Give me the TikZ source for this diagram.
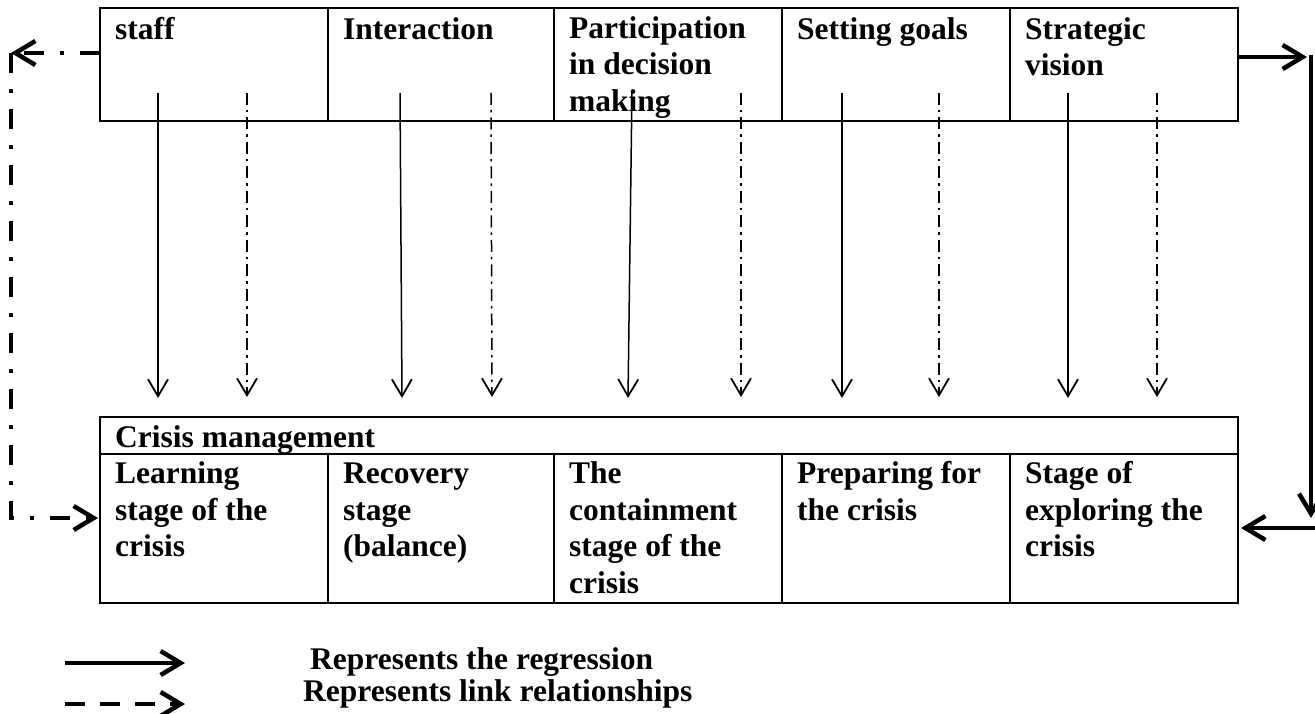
\documentclass[tikz,border=0pt]{standalone}
\usepackage{fontspec}
\setmainfont{Liberation Serif}
\usetikzlibrary{arrows.meta,calc}
\newcommand{\tst}{\rule{0pt}{26pt}}
\begin{document}
\begin{tikzpicture}[x=1pt,y=-1pt,
  cell/.style={draw, line width=2.5pt, anchor=north west, inner sep=0pt, outer sep=0pt},
  txt/.style={anchor=north west, inner sep=0pt, align=left, font=\fontsize{31.5}{36.8}\selectfont\bfseries},
  reg/.style={line width=1.5pt, -{Straight Barb[length=17pt,width=20pt,line width=1.8pt]}},
  ddot/.style={line width=1.5pt, dash pattern=on 12pt off 5pt on 2.5pt off 5pt, -{Straight Barb[length=17pt,width=20pt,line width=1.8pt]}},
  thickreg/.style={line width=4.5pt, -{Straight Barb[length=20pt,width=24pt,line width=4.5pt]}},
  link/.style={line width=4.5pt, dash pattern=on 20pt off 16pt on 4pt off 16pt, -{Straight Barb[length=20pt,width=24pt,line width=4.5pt]}},
  legdash/.style={line width=4.5pt, dash pattern=on 20pt off 15pt, -{Straight Barb[length=20pt,width=24pt,line width=4.5pt]}}
]
\useasboundingbox (0,0) rectangle (1315,714);

% top row
\node[cell, minimum width=228pt, minimum height=113pt] (s1) at (100,8) {};
\node[cell, minimum width=226pt, minimum height=113pt] (s2) at (328,8) {};
\node[cell, minimum width=228pt, minimum height=113pt] (s3) at (554,8) {};
\node[cell, minimum width=228pt, minimum height=113pt] (s4) at (782,8) {};
\node[cell, minimum width=228pt, minimum height=113pt] (s5) at (1010,8) {};

\node[txt] (t1) at (115,13) {\tst staff};
\node[txt] (t2) at (343,13) {\tst Interaction};
\node[txt] (t3) at (569,12) {\tst Participation\\in decision\\making};
\node[txt] (t4) at (797,13) {\tst Setting goals};
\node[txt] (t5) at (1025,13) {\tst Strategic\\vision};

% bottom box
\node[cell, minimum width=1138pt, minimum height=37pt] (cm) at (100,417) {};
\node[cell, minimum width=228pt, minimum height=149pt] (b1) at (100,454) {};
\node[cell, minimum width=226pt, minimum height=149pt] (b2) at (328,454) {};
\node[cell, minimum width=228pt, minimum height=149pt] (b3) at (554,454) {};
\node[cell, minimum width=228pt, minimum height=149pt] (b4) at (782,454) {};
\node[cell, minimum width=228pt, minimum height=149pt] (b5) at (1010,454) {};

\node[txt] (th) at (115,421) {\tst Crisis management};
\node[txt] (u1) at (115,457) {\tst Learning\\stage of the\\crisis};
\node[txt] (u2) at (343,457) {\tst Recovery\\stage\\(balance)};
\node[txt] (u3) at (569,457) {\tst The\\containment\\stage of the\\crisis};
\node[txt] (u4) at (797,457) {\tst Preparing for\\the crisis};
\node[txt] (u5) at (1025,457) {\tst Stage of\\exploring the\\crisis};

% vertical arrows
\coordinate (a1s) at (158,93);  \coordinate (a1e) at (158,398);
\coordinate (d1s) at (247,93);  \coordinate (d1e) at (247,397);
\coordinate (a2s) at (400,93);  \coordinate (a2e) at (402,398);
\coordinate (d2s) at (491,93);  \coordinate (d2e) at (492,397);
\coordinate (a3s) at (632,90);  \coordinate (a3e) at (628,398);
\coordinate (d3s) at (741,93);  \coordinate (d3e) at (741,397);
\coordinate (a4s) at (842,93);  \coordinate (a4e) at (842,398);
\coordinate (d4s) at (939,93);  \coordinate (d4e) at (939,397);
\coordinate (a5s) at (1068,93); \coordinate (a5e) at (1068,398);
\coordinate (d5s) at (1157,93); \coordinate (d5e) at (1157,397);

\draw[reg] (a1s) -- (a1e);
\draw[ddot] (d1s) -- (d1e);
\draw[reg] (a2s) -- (a2e);
\draw[ddot] (d2s) -- (d2e);
\draw[reg] (a3s) -- (a3e);
\draw[ddot] (d3s) -- (d3e);
\draw[reg] (a4s) -- (a4e);
\draw[ddot] (d4s) -- (d4e);
\draw[reg] (a5s) -- (a5e);
\draw[ddot] (d5s) -- (d5e);

% left link loop
\coordinate (lout) at ($(s1.north west)+(0,45)$);
\coordinate (ltl) at (11,53);
\coordinate (lin) at ($(b1.north west)+(-2,64)$);
\draw[link] (lout) -- (ltl);
\draw[link] (ltl) |- (lin);

% right regression loop
\coordinate (rout) at ($(s5.north east)+(0,49)$);
\coordinate (rtr) at (1307,57);
\coordinate (rv1) at (1311,55);
\coordinate (rv2) at (1311,518);
\coordinate (rh1) at (1315,528);
\coordinate (rin) at ($(b5.north east)+(3,74)$);
\draw[thickreg] (rout) -- (rtr);
\draw[thickreg] (rv1) -- (rv2);
\draw[thickreg] (rh1) -- (rin);

% legend
\coordinate (l1a) at (65,663); \coordinate (l1b) at (185,663);
\coordinate (l2a) at (65,704); \coordinate (l2b) at (185,704);
\draw[thickreg] (l1a) -- (l1b);
\draw[legdash] (l2a) -- (l2b);
\node[txt] (lg1) at (310,643) {\tst Represents the regression};
\node[txt] (lg2) at (303,675) {\tst Represents link relationships};
\end{tikzpicture}
\end{document}
